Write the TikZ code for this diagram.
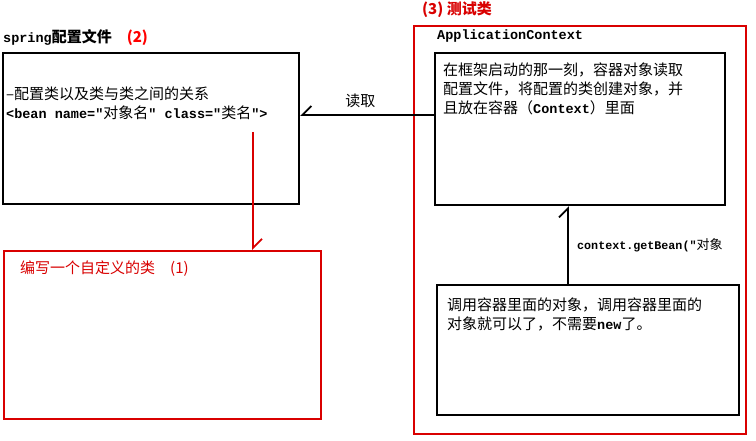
\documentclass[tikz,border=0pt]{standalone}
\usepackage{fontspec}
\setmainfont{Noto Sans CJK SC}
\setmonofont[Scale=0.9]{Liberation Mono}
\newfontfamily\cjk{Noto Sans CJK SC}
\usetikzlibrary{arrows.meta}
\tikzset{
  blk/.style={draw=black,line width=2.2pt},
  redbox/.style={draw=red!85!black,line width=1.8pt},
  tip/.style={-{Straight Barb[harpoon,swap,length=9pt,width=18pt,line width=1.8pt]}},
  tipv/.style={-{Straight Barb[harpoon,length=9pt,width=18pt,line width=1.8pt]}},
  txt/.style={font=\fontsize{15pt}{19pt}\selectfont,inner sep=0pt,anchor=north west,align=left},
}
\begin{document}
\begin{tikzpicture}[x=1pt,y=-1pt]
\clip (0,0) rectangle (756,441);
\fill[white] (0,0) rectangle (756,441);
% left config box
\node[blk,minimum width=296pt,minimum height=151pt,anchor=north west] (cfg) at (2,52) {};
\node[txt] (cfgt) at (3,29) {\ttfamily\bfseries spring\cjk 配置文件\quad\color{red}(2)};
\node[txt] (cfgb) at (6,87) {--配置类以及类与类之间的关系\\{\ttfamily\bfseries <bean name="}对象名{\ttfamily\bfseries " class="}类名{\ttfamily\bfseries ">}};
% red class box
\node[redbox,minimum width=317pt,minimum height=168pt,anchor=north west] (cls) at (3,250) {};
\node[txt,text=red!85!black] (clst) at (20,261) {编写一个自定义的类\quad(1)};
\coordinate (rs) at (253,132);
\draw[red!85!black,line width=1.8pt,tipv] (rs) -- (rs |- cls.north);
% right test box
\node[redbox,minimum width=332pt,minimum height=408pt,anchor=north west] (test) at (413,25) {};
\node[txt,text=red!85!black] (testt) at (422,1) {\bfseries (3) 测试类};
\node[txt] (act) at (437,30) {\ttfamily\bfseries ApplicationContext};
\node[blk,minimum width=290pt,minimum height=152pt,anchor=north west] (ctx) at (434,52) {};
\node[txt] (ctxt) at (443,63) {在框架启动的那一刻，容器对象读取\\配置文件，将配置的类创建对象，并\\且放在容器（{\ttfamily\bfseries Context}）里面};
\node[blk,minimum width=302pt,minimum height=130pt,anchor=north west] (use) at (436,284) {};
\node[txt] (uset) at (447,298) {调用容器里面的对象，调用容器里面的\\对象就可以了，不需要{\ttfamily\bfseries new}了。};
\draw[line width=2.2pt,tip] (ctx.west |- 0,115) -- node[above,font=\fontsize{15pt}{16pt}\selectfont,pos=0.55,yshift=3pt]{读取} (cfg.east |- 0,115);
\coordinate (ub) at (568,284);
\draw[line width=2.2pt,tipv] (ub) -- (ub |- ctx.south);
\node[txt,font=\fontsize{13pt}{16pt}\selectfont] (gb) at (577,238) {\ttfamily\bfseries context.getBean("\cjk\mdseries 对象};
\end{tikzpicture}
\end{document}
